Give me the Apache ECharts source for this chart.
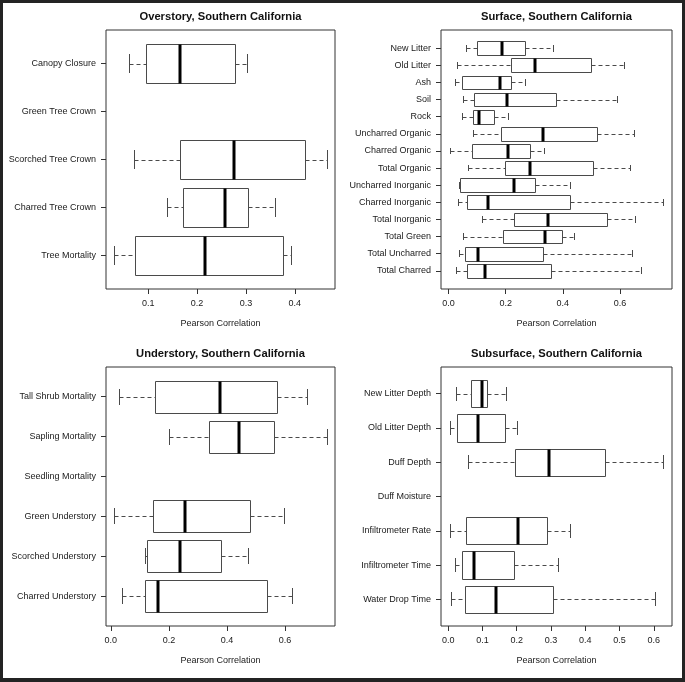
<!DOCTYPE html>
<html><head><meta charset="utf-8">
<script src="https://cdn.jsdelivr.net/npm/echarts@6/dist/echarts.min.js"></script>
<style>
html,body{margin:0;padding:0;background:#232323;width:685px;height:682px;overflow:hidden}
#c{position:absolute;left:3px;top:3px;width:679px;height:675px;background:#fff}
</style>
</head><body><div id="c"></div>
<script>
// ---- Data: [min, Q1, median, Q3, max] per category (null = no data) ----
const overstoryCats = ['Canopy Closure', 'Green Tree Crown', 'Scorched Tree Crown', 'Charred Tree Crown', 'Tree Mortality'];
const overstoryStats = [
  [0.060, 0.0965, 0.166, 0.278, 0.303],
  null,
  [0.071, 0.1645, 0.2755, 0.4217, 0.465],
  [0.139, 0.171, 0.258, 0.305, 0.360],
  [0.031, 0.0727, 0.2155, 0.3755, 0.392]
];
const overstoryTicks = [0.1, 0.2, 0.3, 0.4];

const surfaceCats = ['New Litter', 'Old Litter', 'Ash', 'Soil', 'Rock', 'Uncharred Organic', 'Charred Organic',
  'Total Organic', 'Uncharred Inorganic', 'Charred Inorganic', 'Total Inorganic', 'Total Green', 'Total Uncharred', 'Total Charred'];
const surfaceStats = [
  [0.060, 0.098, 0.187, 0.268, 0.364],
  [0.030, 0.220, 0.304, 0.498, 0.615],
  [0.021, 0.047, 0.180, 0.219, 0.268],
  [0.050, 0.088, 0.2035, 0.377, 0.588],
  [0.047, 0.084, 0.1076, 0.159, 0.209],
  [0.084, 0.184, 0.331, 0.520, 0.649],
  [0.0035, 0.081, 0.208, 0.285, 0.333],
  [0.069, 0.198, 0.285, 0.506, 0.635],
  [0.036, 0.0386, 0.229, 0.303, 0.4246],
  [0.0327, 0.064, 0.138, 0.4246, 0.752],
  [0.118, 0.228, 0.3485, 0.5556, 0.6526],
  [0.050, 0.1906, 0.337, 0.3977, 0.439],
  [0.036, 0.057, 0.104, 0.331, 0.643],
  [0.026, 0.064, 0.129, 0.358, 0.674]
];
const surfaceTicks = [0.0, 0.2, 0.4, 0.6];

const understoryCats = ['Tall Shrub Mortality', 'Sapling Mortality', 'Seedling Mortality', 'Green Understory', 'Scorched Understory', 'Charred Understory'];
const understoryStats = [
  [0.0286, 0.153, 0.377, 0.571, 0.677],
  [0.200, 0.337, 0.443, 0.562, 0.743],
  null,
  [0.0126, 0.146, 0.256, 0.481, 0.595],
  [0.1166, 0.1257, 0.2377, 0.3806, 0.474],
  [0.0389, 0.1166, 0.161, 0.537, 0.625]
];
const understoryTicks = [0.0, 0.2, 0.4, 0.6];

const subsurfaceCats = ['New Litter Depth', 'Old Litter Depth', 'Duff Depth', 'Duff Moisture', 'Infiltrometer Rate', 'Infiltrometer Time', 'Water Drop Time'];
const subsurfaceStats = [
  [0.0224, 0.0654, 0.0985, 0.112, 0.169],
  [0.0040, 0.0254, 0.0878, 0.1668, 0.200],
  [0.0585, 0.195, 0.2946, 0.4576, 0.628],
  null,
  [0.0050, 0.0507, 0.205, 0.2888, 0.355],
  [0.0205, 0.039, 0.074, 0.192, 0.321],
  [0.0078, 0.0488, 0.1395, 0.306, 0.603]
];
const subsurfaceTicks = [0.0, 0.1, 0.2, 0.3, 0.4, 0.5, 0.6];

const titles = ['Overstory, Southern California', 'Surface, Southern California', 'Understory, Southern California', 'Subsurface, Southern California'];
const xName = 'Pearson Correlation';

// ---- Layout ----
const panels = [
  { cats: overstoryCats, stats: overstoryStats, ticks: overstoryTicks, grid: { left: 103, top: 27, width: 229, height: 259 } },
  { cats: surfaceCats, stats: surfaceStats, ticks: surfaceTicks, grid: { left: 438, top: 27, width: 231, height: 259 } },
  { cats: understoryCats, stats: understoryStats, ticks: understoryTicks, grid: { left: 103, top: 364, width: 229, height: 259 } },
  { cats: subsurfaceCats, stats: subsurfaceStats, ticks: subsurfaceTicks, grid: { left: 438, top: 364, width: 231, height: 259 } }
];

const FONT = '"Liberation Sans", Arial, sans-serif';
const FS = 9;
const TXT = '#1a1a1a';
const LINE = '#4a4a4a';

function crisp(v) { return Math.round(v) + 0.5; }

function renderBox(params, api) {
  const c = api.value(0);
  const v = [1, 2, 3, 4, 5].map(i => api.value(i));
  const unit = Math.abs(api.size([0, 1])[1]);
  const half = unit * 0.4, capHalf = unit * 0.2;
  const xs = v.map(val => api.coord([val, c])[0]);
  const y = api.coord([v[0], c])[1];
  const dashed = { stroke: LINE, lineWidth: 1, lineDash: [4, 3] };
  const solid = { stroke: LINE, lineWidth: 1 };
  const y0 = crisp(y - half), y1 = crisp(y + half);
  const ym = crisp(y);
  return {
    type: 'group',
    children: [
      { type: 'line', shape: { x1: crisp(xs[0]), y1: ym, x2: crisp(xs[1]), y2: ym }, style: dashed },
      { type: 'line', shape: { x1: crisp(xs[3]), y1: ym, x2: crisp(xs[4]), y2: ym }, style: dashed },
      { type: 'line', shape: { x1: crisp(xs[0]), y1: Math.round(y - capHalf), x2: crisp(xs[0]), y2: Math.round(y + capHalf) }, style: solid },
      { type: 'line', shape: { x1: crisp(xs[4]), y1: Math.round(y - capHalf), x2: crisp(xs[4]), y2: Math.round(y + capHalf) }, style: solid },
      { type: 'rect', shape: { x: crisp(xs[1]), y: y0, width: Math.round(xs[3]) - Math.round(xs[1]), height: y1 - y0 }, style: { fill: '#fff', stroke: LINE, lineWidth: 1 } },
      { type: 'line', shape: { x1: Math.round(xs[2]), y1: y0, x2: Math.round(xs[2]), y2: y1 }, style: { stroke: '#000', lineWidth: 3 } }
    ]
  };
}

const grids = [], xAxes = [], yAxes = [], series = [], graphics = [];
panels.forEach((p, i) => {
  const n = p.cats.length;
  const valid = p.stats.filter(s => s);
  const lo = Math.min(...valid.map(s => s[0]));
  const hi = Math.max(...valid.map(s => s[4]));
  const pad = (hi - lo) * 0.04;
  grids.push(Object.assign({ show: true, borderColor: '#333', borderWidth: 1, backgroundColor: '#fff', outerBoundsMode: 'none', containLabel: false }, p.grid));
  xAxes.push({
    type: 'value', gridIndex: i, min: lo - pad, max: hi + pad, position: 'bottom',
    axisLine: { show: false, onZero: false },
    splitLine: { show: false },
    axisTick: { show: true, length: 5, customValues: p.ticks, lineStyle: { color: '#333' } },
    axisLabel: { customValues: p.ticks, margin: 10, fontSize: FS, fontFamily: FONT, color: TXT, formatter: v => v.toFixed(1) },
    name: xName, nameLocation: 'middle', nameGap: 30,
    nameTextStyle: { fontSize: FS, fontFamily: FONT, color: TXT }
  });
  const cv = p.cats.map((_, k) => k + 1);
  yAxes.push({
    type: 'value', gridIndex: i, inverse: true, position: 'left',
    min: 0.5 - 0.04 * n, max: n + 0.5 + 0.04 * n,
    axisLine: { show: false, onZero: false },
    splitLine: { show: false },
    axisTick: { show: true, length: 5, customValues: cv, lineStyle: { color: '#333' } },
    axisLabel: { customValues: cv, margin: 10, fontSize: FS, fontFamily: FONT, color: TXT, formatter: v => p.cats[Math.round(v) - 1] }
  });
  const data = [];
  p.stats.forEach((s, k) => { if (s) data.push([k + 1].concat(s)); });
  series.push({
    type: 'custom', xAxisIndex: i, yAxisIndex: i, renderItem: renderBox,
    encode: { x: [1, 2, 3, 4, 5], y: 0 }, data: data, silent: true, clip: false
  });
  graphics.push({
    type: 'text', x: p.grid.left + p.grid.width / 2, y: p.grid.top - 13,
    style: { text: titles[i], fontSize: 11.2, fontWeight: 'bold', fontFamily: FONT, fill: '#111', textAlign: 'center', textVerticalAlign: 'middle' }
  });
});

const chart = echarts.init(document.getElementById('c'), null, { renderer: 'canvas' });
chart.setOption({
  animation: false,
  backgroundColor: '#fff',
  grid: grids, xAxis: xAxes, yAxis: yAxes, series: series, graphic: graphics
});
</script>
</body></html>
